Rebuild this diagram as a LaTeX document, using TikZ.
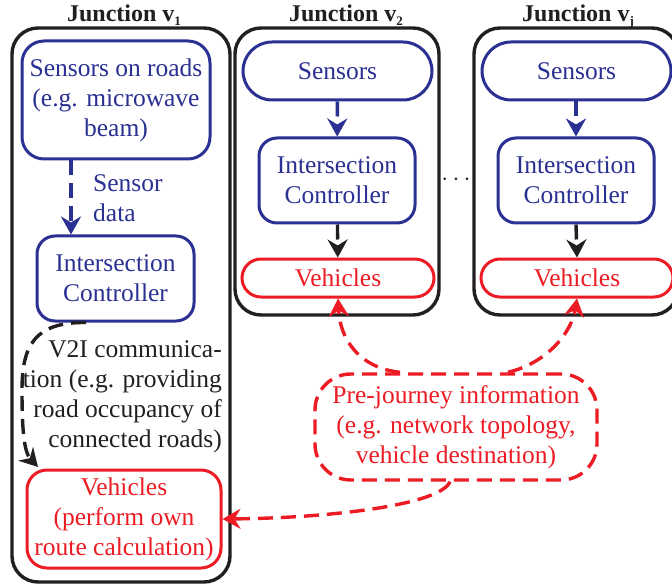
\documentclass[tikz,border=0pt]{standalone}
\usepackage{fontspec}
\setmainfont{Liberation Serif}
\usetikzlibrary{arrows.meta,calc}
\definecolor{cblue}{RGB}{43,49,146}
\definecolor{cred}{RGB}{237,28,36}
\definecolor{cblack}{RGB}{35,31,32}
\newcommand{\jsub}[1]{\raisebox{-4pt}{\fontsize{13}{13}\selectfont #1}}
\tikzset{
  junc/.style={draw=cblack,line width=3.4pt,rounded corners=26pt,minimum width=#1},
  bbox/.style={draw=cblue,line width=3pt,text=cblue,align=center,inner sep=0pt},
  rbox/.style={draw=cred,line width=3pt,text=cred,align=center,inner sep=0pt},
  ttl/.style={font=\fontsize{24}{28}\selectfont\bfseries,text=cblack,inner sep=0pt,anchor=base},
  txt/.style={font=\fontsize{25.5}{30}\selectfont},
  tip/.style={-{Stealth[length=18pt,width=20pt,inset=6pt]}},
  dsh/.style={dash pattern=on 15pt off 8pt,line width=3.4pt},
}
\begin{document}
\begin{tikzpicture}[x=1pt,y=-1pt]
\clip (0,0) rectangle (672,588);
\fill[white] (0,0) rectangle (672,588);
% titles
\node[ttl] (t1) at (124,22) {Junction v\jsub{1}};
\node[ttl] (t2) at (346,22) {Junction v\jsub{2}};
\node[ttl] (t3) at (578,22) {Junction v\jsub{j}};
% outer junction boxes
\node[junc=218pt,minimum height=554pt] (J1) at (121,305) {};
\node[junc=204pt,minimum height=287pt] (J2) at (337,171.5) {};
\node[junc=204pt,minimum height=287pt] (J3) at (576,171.5) {};
% junction 1
\node[bbox,txt,rounded corners=22pt,minimum width=188pt,minimum height=118pt] (S1) at (116,100)
  {Sensors on roads\\(e.g. microwave\\beam)};
\node[bbox,txt,rounded corners=18pt,minimum width=157pt,minimum height=85pt] (C1) at (115.5,278.5)
  {Intersection\\Controller};
\node[rbox,txt,rounded corners=20pt,minimum width=194pt,minimum height=98pt] (W1) at (124,519)
  {Vehicles\\(perform own\\route calculation)};
\node[txt,text=cblue,align=left,anchor=west,inner sep=0pt] (sd) at (93,198) {Sensor\\data};
\node[txt,text=cblack,align=right,anchor=east,inner sep=0pt] (v2i) at (222,397)
  {V2I communica-\\tion (e.g. providing\\road occupancy of\\connected roads)};
\coordinate (ax) at (71,0);
\draw[cblue,dsh,tip] (S1.south -| ax) -- (C1.north -| ax);
\coordinate (bx) at (86,0);
\coordinate (ve) at (38,467);
\draw[cblack,dsh,tip] (C1.south -| bx) .. controls (35,322) and (22,345) .. (22,390)
  .. controls (22,430) and (24,452) .. (ve);
% junction 2
\node[bbox,txt,rounded corners=29pt,minimum width=189pt,minimum height=58pt] (S2) at (337.5,71) {Sensors};
\node[bbox,txt,rounded corners=18pt,minimum width=156pt,minimum height=85pt] (C2) at (337,180.5) {Intersection\\Controller};
\node[rbox,txt,rounded corners=19pt,minimum width=192pt,minimum height=38pt] (W2) at (338,278) {Vehicles};
\draw[cblue,dsh,tip] (S2) -- (C2);
\draw[cblack,dsh,tip] (C2) -- (W2);
% junction j
\node[bbox,txt,rounded corners=29pt,minimum width=189pt,minimum height=58pt] (S3) at (576.5,71) {Sensors};
\node[bbox,txt,rounded corners=18pt,minimum width=156pt,minimum height=85pt] (C3) at (576,180.5) {Intersection\\Controller};
\node[rbox,txt,rounded corners=19pt,minimum width=192pt,minimum height=38pt] (W3) at (577,278) {Vehicles};
\draw[cblue,dsh,tip] (S3.south -| C3.north) -- (C3.north);
\draw[cblack,dsh,tip] (C3.south) -- (W3.south |- W3.north);
% dots
\node[txt,text=cblack,inner sep=0pt] (dots) at (456,180) {$\cdots$};
% pre-journey
\node[draw=cred,dsh,rounded corners=36pt,text=cred,txt,align=center,minimum width=282pt,minimum height=106pt,inner sep=0pt] (P) at (456,427)
  {Pre-journey information\\(e.g. network topology,\\vehicle destination)};
\coordinate (pa) at (400,0);
\coordinate (pb) at (508,0);
\coordinate (pc) at (450,0);
\draw[cred,dsh,tip] (P.north -| pa) .. controls (360,368) and (340,340) .. (W2.south);
\draw[cred,dsh,tip] (P.north -| pb) .. controls (550,362) and (572,330) .. (W3.south);
\draw[cred,dsh,tip] (P.south -| pc) .. controls (440,505) and (330,518) .. (W1.east);
\end{tikzpicture}
\end{document}
